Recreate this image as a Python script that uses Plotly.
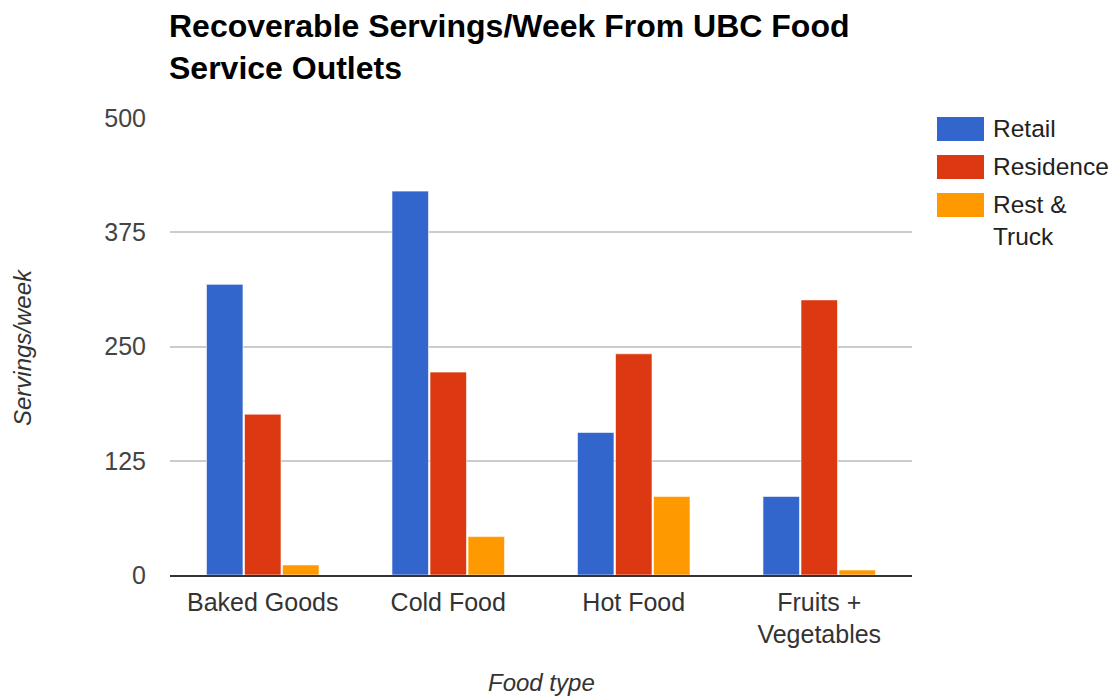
import plotly.graph_objects as go

categories = ["Baked Goods", "Cold Food", "Hot Food", "Fruits +<br>Vegetables"]
series_names = ["Retail", "Residence", "Rest &<br>Truck"]
retail = [318, 420, 156, 86]
residence = [176, 222, 242, 301]
rest_truck = [11, 42, 86, 5.5]
series_values = [retail, residence, rest_truck]
colors = ["#3366cc", "#dc3912", "#ff9900"]
y_ticks = [0, 125, 250, 375, 500]

W, H = 1119, 696
L, R, T, B = 170, 207, 118, 121
PW, PH = W - L - R, H - T - B
FONT = "Liberation Sans, Arial, sans-serif"


def px(x):
    return (x - L) / PW


def py(y):
    return 1 - (y - T) / PH


fig = go.Figure()
for name, vals, col in zip(series_names, series_values, colors):
    fig.add_trace(go.Bar(x=categories, y=vals, name=name,
                         marker=dict(color=col, line=dict(color="rgba(255,255,255,0.6)", width=1)),
                         showlegend=False))

# custom legend (large swatches like the reference)
leg_x0 = 937
leg_y0 = 117
step = 38
for i, (name, col) in enumerate(zip(series_names, colors)):
    y = leg_y0 + i * step
    fig.add_shape(type="rect", xref="paper", yref="paper",
                  x0=px(leg_x0), x1=px(leg_x0 + 47),
                  y0=py(y), y1=py(y + 24),
                  fillcolor=col, line=dict(width=0))
    fig.add_annotation(xref="paper", yref="paper",
                       x=px(991), y=py(y - 4),
                       xanchor="left", yanchor="top", align="left",
                       text=name, showarrow=False,
                       font=dict(family=FONT, size=24.5, color="#222222"))

# title
fig.add_annotation(xref="paper", yref="paper", x=px(167), y=py(47),
                   xanchor="left", yanchor="middle", align="left", showarrow=False,
                   text="<b>Recoverable Servings/Week From UBC Food<br>Service Outlets</b>",
                   font=dict(family=FONT, size=32, color="#000000"))

# axis titles
fig.add_annotation(xref="paper", yref="paper", x=px(541), y=py(682),
                   xanchor="center", yanchor="middle", showarrow=False,
                   text="<i>Food type</i>", font=dict(family=FONT, size=24, color="#333333"))
fig.add_annotation(xref="paper", yref="paper", x=px(22), y=py(347),
                   xanchor="center", yanchor="middle", showarrow=False, textangle=-90,
                   text="<i>Servings/week</i>", font=dict(family=FONT, size=24, color="#333333"))

fig.update_layout(
    width=W, height=H,
    margin=dict(l=L, r=R, t=T, b=B),
    paper_bgcolor="white", plot_bgcolor="white",
    barmode="group", bargap=0.385, bargroupgap=0.04,
    font=dict(family=FONT, size=25, color="#444444"),
    xaxis=dict(tickfont=dict(size=25, color="#333333"), showline=True, linecolor="#333333",
               linewidth=1.5, ticks="", ticklabelstandoff=4, automargin=False),
    yaxis=dict(range=[0, 500], tickvals=y_ticks, tickfont=dict(size=25, color="#444444"),
               gridcolor="#cccccc", gridwidth=1.5, zeroline=False, ticks="", ticklabelstandoff=23,
               automargin=False),
)

fig.write_html("out.html")
